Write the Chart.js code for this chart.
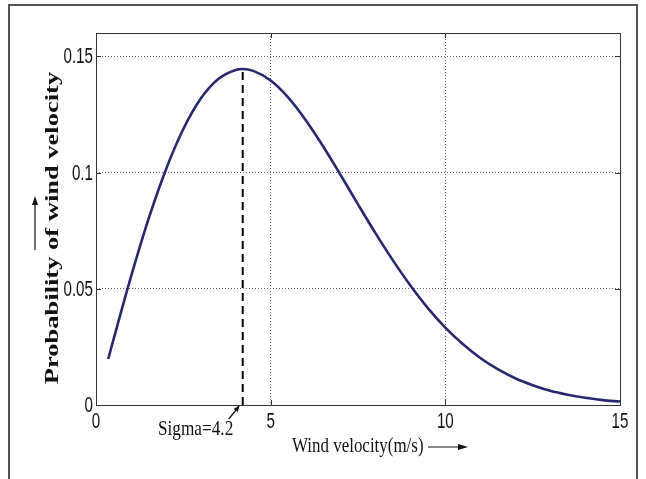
<!DOCTYPE html>
<html>
<head>
<meta charset="utf-8">
<script src="https://cdn.jsdelivr.net/npm/chart.js@4.4.1/dist/chart.umd.min.js"></script>
<style>
  html, body { margin: 0; padding: 0; background: #fff; }
  #wrap { width: 646px; height: 479px; position: relative; }
</style>
</head>
<body>
<div id="wrap"><canvas id="pdfChart" width="646" height="479"></canvas></div>
<script>
// wind velocity (m/s) and probability
const velocity = [0.35, 0.5, 1, 1.5, 2, 2.5, 3, 3.5, 4, 4.2, 4.5, 5, 5.5, 6, 6.5, 7, 7.5, 8, 8.5, 9, 9.5, 10,
                  10.5, 11, 11.5, 12, 12.5, 13, 13.5, 14, 14.5, 15];
const probability = [0.0198, 0.0281, 0.0551, 0.0798, 0.1012, 0.1187, 0.1318, 0.1402, 0.1441, 0.1445, 0.1437,
                     0.1396, 0.1323, 0.1226, 0.1113, 0.0990, 0.0863, 0.0739, 0.0622, 0.0514, 0.0417, 0.0333,
                     0.0262, 0.0202, 0.0154, 0.0115, 0.0085, 0.0061, 0.0044, 0.0031, 0.0021, 0.0015];

// dashed marker at sigma
const sigmaX = [4.2, 4.2];
const sigmaY = [0, 0.1445];

const xTicks = [0, 5, 10, 15];
const yTicks = [0, 0.05, 0.1, 0.15];
const xLabels = ['0', '5', '10', '15'];
const yLabels = ['0', '0.05', '0.1', '0.15'];

const sans = '"Liberation Sans", Arial, sans-serif';
const serif = '"Liberation Serif", "Times New Roman", serif';

// the original figure is squeezed sideways, so text is drawn narrow
function squeezedText(ctx, text, x, y, font, sx, align, baseline) {
    ctx.save();
    ctx.translate(x, y);
    ctx.scale(sx, 1);
    ctx.font = font;
    ctx.textAlign = align;
    ctx.textBaseline = baseline;
    ctx.fillText(text, 0, 0);
    ctx.restore();
}

const decorations = {
    id: 'decorations',
    afterDraw(chart) {
        const { ctx, chartArea: a, scales } = chart;
        ctx.save();
        // plot box
        ctx.strokeStyle = '#333';
        ctx.lineWidth = 1;
        ctx.strokeRect(a.left + 0.5, a.top + 0.5, a.right - a.left, a.bottom - a.top);

        // inside tick marks
        ctx.beginPath();
        xTicks.forEach(v => {
            const px = Math.round(scales.x.getPixelForValue(v)) + 0.5;
            ctx.moveTo(px, a.bottom); ctx.lineTo(px, a.bottom - 5);
            ctx.moveTo(px, a.top); ctx.lineTo(px, a.top + 5);
        });
        yTicks.forEach(v => {
            const py = Math.round(scales.y.getPixelForValue(v)) + 0.5;
            ctx.moveTo(a.left, py); ctx.lineTo(a.left + 5, py);
            ctx.moveTo(a.right, py); ctx.lineTo(a.right - 5, py);
        });
        ctx.stroke();

        // outer frame
        ctx.strokeStyle = '#555';
        ctx.lineWidth = 2;
        ctx.strokeRect(9, 5, 628, 480);

        ctx.fillStyle = '#111';
        // tick labels
        const tickFont = '22px ' + sans;
        xTicks.forEach((v, i) => {
            squeezedText(ctx, xLabels[i], scales.x.getPixelForValue(v), a.bottom + 6, tickFont, 0.69, 'center', 'top');
        });
        yTicks.forEach((v, i) => {
            squeezedText(ctx, yLabels[i], a.left - 3, scales.y.getPixelForValue(v) + 1, tickFont, 0.69, 'right', 'middle');
        });

        // y axis title
        ctx.save();
        ctx.translate(58, 228);
        ctx.rotate(-Math.PI / 2);
        ctx.scale(1, 0.7);
        ctx.font = 'bold 26.5px ' + serif;
        ctx.textAlign = 'center';
        ctx.textBaseline = 'alphabetic';
        ctx.fillText('Probability of wind velocity', 0, 0);
        ctx.restore();

        // up arrow left of y title
        ctx.strokeStyle = '#111';
        ctx.lineWidth = 1.2;
        ctx.beginPath();
        ctx.moveTo(35, 250); ctx.lineTo(35, 200);
        ctx.stroke();
        ctx.beginPath();
        ctx.moveTo(35, 196); ctx.lineTo(32, 205); ctx.lineTo(38, 205); ctx.closePath();
        ctx.fill();

        // x axis title + arrow
        squeezedText(ctx, 'Wind velocity(m/s)', 292, 452, '22px ' + serif, 0.77, 'left', 'alphabetic');
        ctx.beginPath();
        ctx.moveTo(428, 447); ctx.lineTo(462, 447);
        ctx.stroke();
        ctx.beginPath();
        ctx.moveTo(468, 447); ctx.lineTo(458, 444); ctx.lineTo(458, 450); ctx.closePath();
        ctx.fill();

        // sigma label + small arrow
        const sx = scales.x.getPixelForValue(sigmaX[0]);
        squeezedText(ctx, 'Sigma=4.2', 158, 435, '21px ' + serif, 0.82, 'left', 'alphabetic');
        ctx.beginPath();
        ctx.moveTo(sx - 14, 419); ctx.lineTo(sx - 5, 408);
        ctx.stroke();
        ctx.beginPath();
        ctx.moveTo(sx - 3, 405); ctx.lineTo(sx - 9, 409); ctx.lineTo(sx - 5, 412); ctx.closePath();
        ctx.fill();
        ctx.restore();
    }
};

new Chart(document.getElementById('pdfChart').getContext('2d'), {
    type: 'line',
    data: {
        datasets: [{
            data: velocity.map((v, i) => ({ x: v, y: probability[i] })),
            borderColor: '#27296e',
            borderWidth: 2.6,
            pointRadius: 0,
            cubicInterpolationMode: 'monotone',
            fill: false
        }, {
            data: sigmaX.map((v, i) => ({ x: v, y: sigmaY[i] })),
            borderColor: '#000',
            borderWidth: 2,
            borderDash: [8, 5],
            pointRadius: 0,
            fill: false
        }]
    },
    options: {
        responsive: false,
        animation: false,
        events: [],
        layout: { padding: { left: 0, right: 26, top: 33, bottom: 0 } },
        plugins: { legend: { display: false }, tooltip: { enabled: false } },
        scales: {
            x: {
                type: 'linear',
                min: 0,
                max: 15,
                afterFit: s => { s.height = 74; },
                afterBuildTicks: s => { s.ticks = xTicks.map(v => ({ value: v })); },
                grid: { color: '#666', lineWidth: 1, drawTicks: false },
                border: { display: false, dash: [1, 2] },
                ticks: { display: false }
            },
            y: {
                min: 0,
                max: 0.16,
                afterFit: s => { s.width = 96; },
                afterBuildTicks: s => { s.ticks = yTicks.map(v => ({ value: v })); },
                grid: { color: '#666', lineWidth: 1, drawTicks: false },
                border: { display: false, dash: [1, 2] },
                ticks: { display: false }
            }
        }
    },
    plugins: [decorations]
});
</script>
</body>
</html>
